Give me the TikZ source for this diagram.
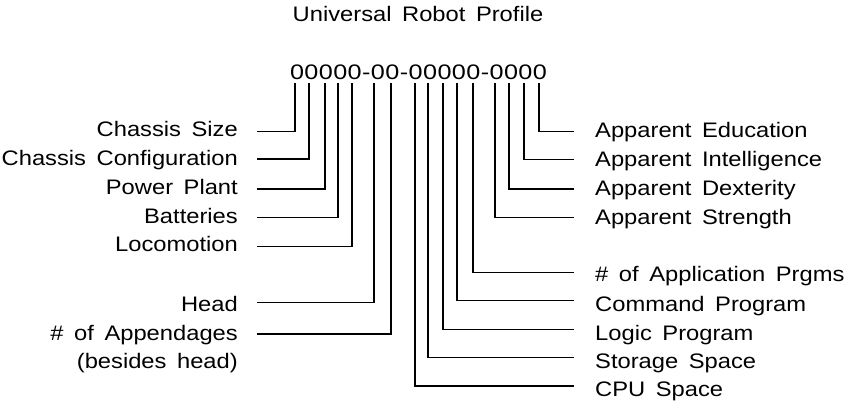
\documentclass[tikz,border=0pt]{standalone}
\usepackage{fontspec}
\setmainfont{Liberation Sans}[FakeStretch=1.13, WordSpace=1.6]
\begin{document}
\begin{tikzpicture}[x=1pt, y=-1pt,
  lbl/.style={inner sep=0pt, font=\fontsize{21}{25}\selectfont},
  codefont/.style={inner sep=0pt, font=\fontsize{21}{25}\selectfont\addfontfeature{FakeStretch=1.2, LetterSpace=2}},
  wire/.style={line width=1.5pt, line join=miter}]
\useasboundingbox (0,0) rectangle (850,404);

% heading and the profile code
\node[lbl, anchor=base] (title) at (418,22) {Universal Robot Profile};
\node[codefont, anchor=base] (code) at (418.5,79) {00000-00-00000-0000};

% fields read from the left-hand digits
\foreach \n/\x/\ly/\by/\txt in {
  1/295/131.7/136.7/Chassis Size,
  2/309/159/165/Chassis Configuration,
  3/325/189/194/Power Plant,
  4/338/217.3/223.3/Batteries,
  5/352/246.7/251.7/Locomotion,
  6/374/302.7/311.7/Head,
  7/391/334/340/\# of Appendages}{
  \coordinate (lt\n) at (\x,83);
  \coordinate (le\n) at (257,\ly);
  \node[lbl, anchor=base east] (l\n) at (238,\by) {\txt};
  \draw[wire] (lt\n) |- (le\n);
}
\node[lbl, anchor=base east] (l7b) at (238,368.3) {(besides head)};

% fields read from the right-hand digits
\foreach \n/\x/\ly/\by/\txt in {
  1/539/131.7/137.3/Apparent Education,
  2/524/159.3/166.7/Apparent Intelligence,
  3/509/189/195/Apparent Dexterity,
  4/495/217.3/224/Apparent Strength,
  5/473/272.7/281.7/\# of Application Prgms,
  6/457/300.7/311.7/Command Program,
  7/443/329.3/340/Logic Program,
  8/428/357.3/368.3/Storage Space,
  9/415/386/396.7/CPU Space}{
  \coordinate (rt\n) at (\x,83);
  \coordinate (re\n) at (574,\ly);
  \node[lbl, anchor=base west] (r\n) at (595,\by) {\txt};
  \draw[wire] (rt\n) |- (re\n);
}
\end{tikzpicture}
\end{document}
